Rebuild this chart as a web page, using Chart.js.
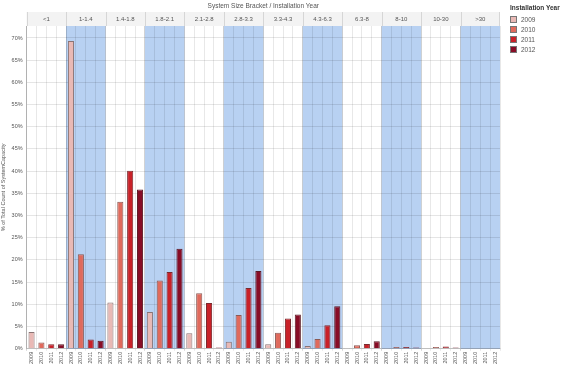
<!DOCTYPE html>
<html>
<head>
<meta charset="utf-8">
<script src="https://cdn.jsdelivr.net/npm/chart.js@4.4.1/dist/chart.umd.min.js"></script>
<style>
  html, body { margin: 0; padding: 0; background: #fff; }
  #wrap { position: relative; width: 579px; height: 365px; }
  #legend { position: absolute; left: 510px; top: 4px; font-family: "Liberation Sans", Arial, sans-serif; color: #555; }
  #legend .ttl { font-size: 6.5px; font-weight: bold; color: #333; margin-bottom: 3px; }
  #legend .row { display: flex; align-items: center; height: 10px; font-size: 6.5px; }
  #legend .sw { width: 7px; height: 7px; box-sizing: border-box; border: 1px solid #777; margin-right: 4px; }
</style>
</head>
<body>
<div id="wrap">
  <canvas id="c" width="579" height="365"></canvas>
  <div id="legend"></div>
</div>
<script>
const brackets = ['<1','1-1.4','1.4-1.8','1.8-2.1','2.1-2.8','2.8-3.3','3.3-4.3','4.3-6.3','6.3-8','8-10','10-30','>30'];
const years = ['2009','2010','2011','2012'];
const v2009 = [3.8, 69.3, 10.4, 8.3, 3.5, 1.6, 1.0, 0.6, 0.2, 0.05, 0.1, 0.0];
const v2010 = [1.4, 21.3, 33.1, 15.4, 12.5, 7.6, 3.6, 2.2, 0.8, 0.4, 0.4, 0.0];
const v2011 = [1.0, 2.1, 40.1, 17.3, 10.3, 13.7, 6.8, 5.3, 1.1, 0.4, 0.5, 0.0];
const v2012 = [1.0, 1.8, 35.9, 22.5, 0.3, 17.5, 7.7, 9.6, 1.7, 0.3, 0.3, 0.1];
const yTicks = [0,5,10,15,20,25,30,35,40,45,50,55,60,65,70];

const series = [v2009, v2010, v2011, v2012];
const fills = ['#e9b9b5', '#e06a5c', '#c92128', '#880d26'];
const borders = ['#8a7474', '#8a5a55', '#7a2a2e', '#5a1a24'];

const labels = [];
brackets.forEach(() => years.forEach(y => labels.push(y)));

const datasets = years.map((yr, yi) => {
  const data = [];
  brackets.forEach((b, bi) => years.forEach((y2, k) => data.push(k === yi ? series[yi][bi] : null)));
  return {
    label: yr,
    data,
    backgroundColor: fills[yi],
    borderColor: borders[yi],
    borderWidth: 1,
    barPercentage: 0.62,
    categoryPercentage: 1.0,
    skipNull: true
  };
});

// HTML legend
const lg = document.getElementById('legend');
lg.innerHTML = '<div class="ttl">Installation Year</div>' + years.map((y, i) =>
  '<div class="row"><div class="sw" style="background:' + fills[i] + '"></div>' + y + '</div>').join('');

const bgPlugin = {
  id: 'facetBg',
  beforeDraw(chart) {
    const { ctx, chartArea, scales } = chart;
    const x = scales.x;
    const step = x.getPixelForValue(1) - x.getPixelForValue(0);
    ctx.save();
    // header band
    ctx.fillStyle = '#f3f3f3';
    ctx.fillRect(chartArea.left, 12, chartArea.right - chartArea.left, chartArea.top - 12);
    brackets.forEach((b, bi) => {
      const l = x.getPixelForValue(bi * 4) - step / 2;
      const r = x.getPixelForValue(bi * 4 + 3) + step / 2;
      if (bi % 2 === 1) {
        ctx.fillStyle = 'rgb(184,209,242)';
        ctx.fillRect(l, chartArea.top, r - l, chartArea.bottom - chartArea.top);
      }
      ctx.strokeStyle = '#d6d6d6';
      ctx.lineWidth = 1;
      ctx.beginPath();
      ctx.moveTo(Math.round(l) + 0.5, 12);
      ctx.lineTo(Math.round(l) + 0.5, chartArea.top);
      ctx.stroke();
    });
    ctx.beginPath();
    ctx.moveTo(chartArea.right - 0.5, 12);
    ctx.lineTo(chartArea.right - 0.5, chartArea.top);
    ctx.stroke();
    ctx.restore();
  }
};

new Chart(document.getElementById('c'), {
  type: 'bar',
  data: { labels, datasets },
  plugins: [bgPlugin],
  options: {
    responsive: false,
    animation: false,
    layout: { padding: { left: 0, right: 79, top: 0, bottom: 0 } },
    plugins: { legend: { display: false }, tooltip: { enabled: false } },
    scales: {
      x: {
        stacked: true,
        offset: true,
        grid: {
          offset: true,
          color: (c) => (c.index % 4 === 0 ? 'rgba(0,0,0,0.17)' : 'rgba(0,0,0,0.09)'),
          drawTicks: true,
          tickLength: 2
        },
        border: { display: true, color: 'rgba(0,0,0,0.17)' },
        ticks: {
          autoSkip: false,
          minRotation: 90,
          maxRotation: 90,
          padding: 1,
          color: '#555',
          font: { family: 'Liberation Sans', size: 5.5 }
        }
      },
      x2: {
        type: 'category',
        position: 'top',
        labels: brackets,
        offset: true,
        display: true,
        grid: { display: false, drawTicks: false },
        border: { display: false },
        ticks: { autoSkip: false, maxRotation: 0, padding: 3, color: '#555', font: { family: 'Liberation Sans', size: 6 } },
        title: {
          display: true,
          text: 'System Size Bracket / Installation Year',
          color: '#555',
          font: { family: 'Liberation Sans', size: 6.5 },
          padding: { top: 2, bottom: 3 }
        }
      },
      y: {
        stacked: true,
        min: 0,
        max: 72.7,
        afterBuildTicks: (s) => { s.ticks = yTicks.map(v => ({ value: v })); },
        grid: { color: 'rgba(0,0,0,0.1)', drawTicks: false },
        border: { display: true, color: 'rgba(0,0,0,0.17)' },
        ticks: {
          padding: 4,
          color: '#555',
          font: { family: 'Liberation Sans', size: 5.5 },
          callback: (v) => v + '%'
        },
        title: {
          display: true,
          text: '% of Total Count of SystemCapacity',
          color: '#555',
          font: { family: 'Liberation Sans', size: 5.5 },
          padding: { top: 0, bottom: 1 }
        }
      }
    }
  }
});
</script>
</body>
</html>
